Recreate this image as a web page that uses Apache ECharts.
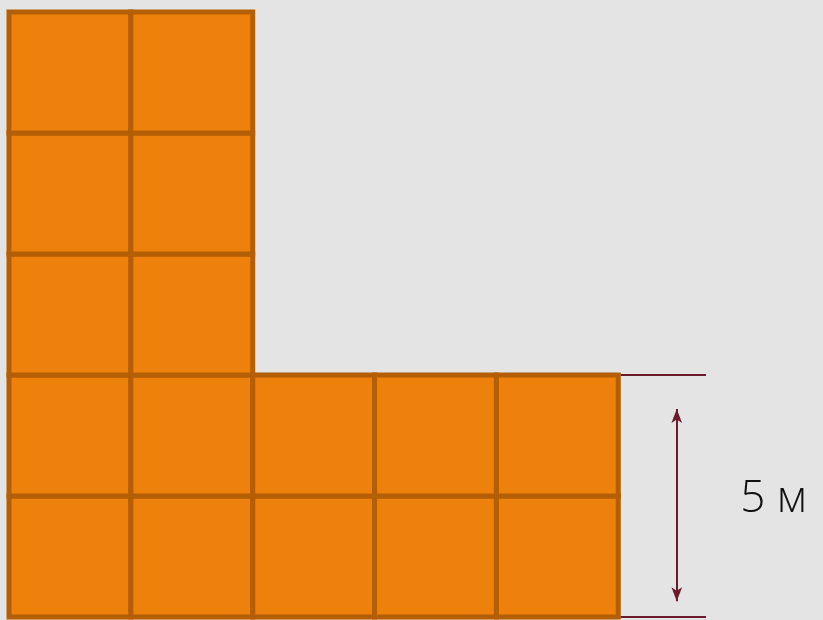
<!DOCTYPE html>
<html lang="ru">
<head>
    <meta charset="UTF-8">
    <title>Площадь фигуры</title>
    <script src="https://cdn.jsdelivr.net/npm/echarts@6/dist/echarts.min.js"></script>
    <style>
        html, body { margin: 0; padding: 0; background: #e4e4e4; }
    </style>
</head>
<body>
<div id="main" style="width: 823px;height:620px;"></div>
<script type="text/javascript">
    // клетки фигуры: [столбец, строка], строка 0 - нижняя
    var cellCols = [0, 1, 2, 3, 4, 0, 1, 2, 3, 4, 0, 1, 0, 1, 0, 1];
    var cellRows = [0, 0, 0, 0, 0, 1, 1, 1, 1, 1, 2, 2, 3, 3, 4, 4];
    // размерная линия справа
    var dimX = 5.48;
    var dimFrom = 0;
    var dimTo = 2;
    var dimArrow = [0.13, 1.72];
    var dimExt = [5.02, 5.72];
    var dimLabel = '5 м';
    var labelPos = [6.0, 0.97];

    var cells = cellCols.map(function (c, i) { return [c, cellRows[i]]; });

    var myChart = echarts.init(document.getElementById('main'));
    var lineColor = '#6a1c2c';

    var option = {
        backgroundColor: '#e4e4e4',
        animation: false,
        grid: { left: 9, right: 0, top: 12, bottom: 3 },
        xAxis: { type: 'value', min: 0, max: 6.68, show: false },
        yAxis: { type: 'value', min: 0, max: 5, show: false },
        series: [{
            type: 'custom',
            clip: false,
            data: cells,
            renderItem: function (params, api) {
                var p = api.coord([api.value(0), api.value(1) + 1]);
                var s = api.size([1, 1]);
                return {
                    type: 'rect',
                    shape: { x: p[0], y: p[1], width: s[0], height: s[1] },
                    style: { fill: '#ee810b', stroke: '#b45f05', lineWidth: 5 }
                };
            },
            z: 2
        }, {
            type: 'custom',
            clip: false,
            silent: true,
            data: [labelPos],
            renderItem: function (params, api) {
                var p = api.coord([api.value(0), api.value(1)]);
                return {
                    type: 'text',
                    x: p[0],
                    y: p[1],
                    style: {
                        text: dimLabel,
                        fill: '#111',
                        fontSize: 44,
                        fontFamily: 'Open Sans',
                        fontWeight: 300,
                        textAlign: 'left',
                        textVerticalAlign: 'middle'
                    }
                };
            },
            markLine: {
                silent: true,
                animation: false,
                label: { show: false },
                lineStyle: { color: lineColor, width: 2, type: 'solid' },
                data: [
                    [{ coord: [dimX, dimArrow[0]], symbol: 'arrow', symbolSize: [8, 14] },
                     { coord: [dimX, dimArrow[1]], symbol: 'arrow', symbolSize: [8, 14] }],
                    [{ coord: [dimExt[0], dimTo], symbol: 'none' },
                     { coord: [dimExt[1], dimTo], symbol: 'none' }],
                    [{ coord: [dimExt[0], dimFrom], symbol: 'none' },
                     { coord: [dimExt[1], dimFrom], symbol: 'none' }]
                ]
            }
        }]
    };

    myChart.setOption(option);
</script>
</body>
</html>
